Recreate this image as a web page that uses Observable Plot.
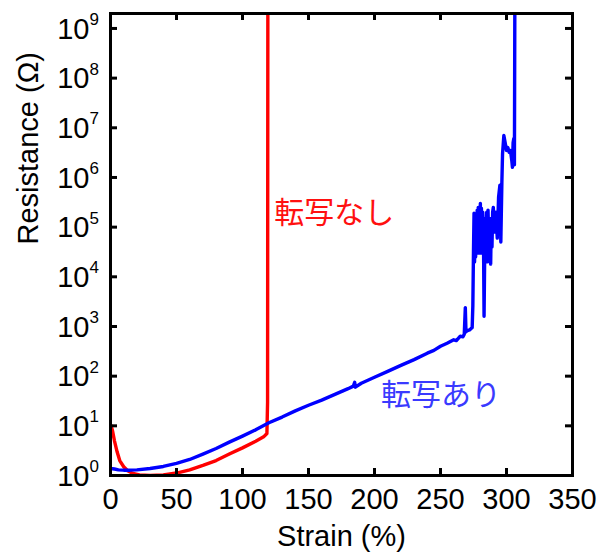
<!DOCTYPE html>
<html>
<head>
<meta charset="utf-8">
<script src="https://cdn.jsdelivr.net/npm/d3@7"></script>
<script src="https://cdn.jsdelivr.net/npm/@observablehq/plot@0.6"></script>
<style>
  html, body { margin: 0; padding: 0; background: #fff; }
  #chart { width: 602px; height: 556px; }
</style>
</head>
<body>
<div id="chart"></div>
<script>
// ---- data ----
const redStrain = [0.5, 1.5, 3, 5, 7, 10, 13, 17, 22, 30, 40, 50, 60, 70, 80, 90, 100, 110, 116, 118.5, 119, 119.2];
const redR      = [10, 8, 5, 3, 2, 1.5, 1.25, 1.1, 1.03, 1.0, 1.03, 1.12, 1.3, 1.6, 2.0, 2.7, 3.6, 4.9, 6.0, 7.0, 30, 2e9];

const blueStrain = [0, 3, 6, 10, 15, 20, 30, 40, 50, 60, 70, 80, 90, 100, 110, 120, 130, 140, 150, 160, 170, 180, 184, 185, 185.5, 190, 200, 210, 220, 230, 240, 245, 250, 255, 260, 262, 265, 267, 268, 268.8, 269.3, 270, 272, 274,
  274.5, 275, 275.4, 275.8, 276.2, 276.6, 277, 277.4, 277.8, 278.2, 278.6, 279, 279.4, 279.8, 280.2, 280.6, 281, 281.5, 282, 282.5, 283, 283.5, 284, 284.5, 285, 285.5, 286, 286.5, 287, 287.5, 288, 288.5, 289, 289.5, 290, 291, 292, 293, 294, 295, 295.7, 296.5, 297, 298, 299, 300, 301, 302, 303, 304, 304.5, 305, 305.5, 306, 306.3];
const blueR = [1.38, 1.35, 1.3, 1.28, 1.28, 1.3, 1.38, 1.52, 1.75, 2.1, 2.7, 3.5, 4.7, 6.2, 8.3, 11.5, 15, 20, 26, 33, 43, 56, 63, 75, 60, 72, 95, 125, 165, 215, 290, 330, 400, 460, 540, 520, 640, 620, 700, 2400, 780, 820, 850, 950,
  2600, 3.5e4, 1.9e5, 2e4, 1.5e5, 2.5e4, 1.8e5, 4e4, 2.2e5, 3e4, 2.5e5, 5e4, 2e5, 3e4, 3e5, 4e4, 2.4e5, 3e4, 2e5, 1e5, 1.6e3, 3e4, 1.5e5, 2.5e4, 2e5, 2e4, 2.2e5, 6e4, 1.5e5, 3e4, 1.8e4, 1.5e5, 4e4, 2e5, 2.5e5, 8e4, 2e5, 6e4, 4e5, 7e5, 5e4, 8e5, 3e6, 7e6, 5e6, 3.5e6, 4e6, 3.2e6, 3.5e6, 2.2e6, 1.6e6, 5e6, 6e6, 1.8e6, 2e9];

const xTicks = [0, 50, 100, 150, 200, 250, 300, 350];
const yExps = [0, 1, 2, 3, 4, 5, 6, 7, 8, 9];
const yTicks = yExps.map(e => Math.pow(10, e));

const labels = [
  {text: "転写なし", x: 124, y: 1.9e5, color: "#ff1010"},
  {text: "転写あり", x: 205, y: 41, color: "#3a3aff"}
];

// ---- build tables ----
const red = redStrain.map((s, i) => ({s, r: redR[i]}));
const blue = blueStrain.map((s, i) => ({s, r: blueR[i]}));

const W = 602, H = 556;
const mL = 110, mR = 30, mT = 13, mB = 81;
const fw = W - mL - mR, fh = H - mT - mB;
const tl = 7;
const latin = "'Liberation Sans', Arial, sans-serif";
const cjk = "'Noto Sans CJK JP', sans-serif";

const chart = Plot.plot({
  width: W, height: H,
  marginLeft: mL, marginRight: mR, marginTop: mT, marginBottom: mB,
  style: {fontFamily: latin, fontSize: "28px", color: "#000", background: "#fff"},
  x: {domain: [0, 350], axis: null},
  y: {type: "log", domain: [1, 2e9], axis: null},
  marks: [
    Plot.line(red, {x: "s", y: "r", stroke: "#ff0000", strokeWidth: 3.4, clip: true}),
    Plot.line(blue, {x: "s", y: "r", stroke: "#0000ff", strokeWidth: 3.4, clip: true}),
    // inward ticks on all four sides
    Plot.tickX(xTicks.slice(1, -1), {x: d => d, insetTop: fh - tl, strokeWidth: 3, stroke: "#000"}),
    Plot.tickX(xTicks.slice(1, -1), {x: d => d, insetBottom: fh - tl, strokeWidth: 3, stroke: "#000"}),
    Plot.tickY(yTicks.slice(1), {y: d => d, insetRight: fw - tl, strokeWidth: 3, stroke: "#000"}),
    Plot.tickY(yTicks.slice(1), {y: d => d, insetLeft: fw - tl, strokeWidth: 3, stroke: "#000"}),
    Plot.frame({stroke: "#000", strokeWidth: 3}),
    // x tick labels
    Plot.text(xTicks, {x: d => d, text: d => String(d), frameAnchor: "bottom", lineAnchor: "middle", dy: 24, fontSize: 29, fill: "#000"}),
    // y tick labels: 10 with superscript exponent
    Plot.text(yExps, {y: (d) => Math.pow(10, d), text: () => "10", frameAnchor: "left", textAnchor: "end", dx: -21, dy: 1, fontSize: 29, fill: "#000"}),
    Plot.text(yExps, {y: (d) => Math.pow(10, d), text: d => String(d), frameAnchor: "left", textAnchor: "start", dx: -21, dy: -9, fontSize: 17, fill: "#000"}),
    // axis titles
    Plot.text(["Strain (%)"], {frameAnchor: "bottom", lineAnchor: "middle", dy: 61, fontSize: 29, fill: "#000"}),
    Plot.text(["Resistance (Ω)"], {frameAnchor: "left", lineAnchor: "middle", rotate: -90, dx: -82, fontSize: 29, fill: "#000"}),
    // series annotations
    Plot.text(labels, {x: "x", y: "y", text: "text", fill: "color", textAnchor: "start", lineAnchor: "middle", fontSize: 30, fontFamily: cjk})
  ]
});
document.getElementById("chart").appendChild(chart);
</script>
</body>
</html>
